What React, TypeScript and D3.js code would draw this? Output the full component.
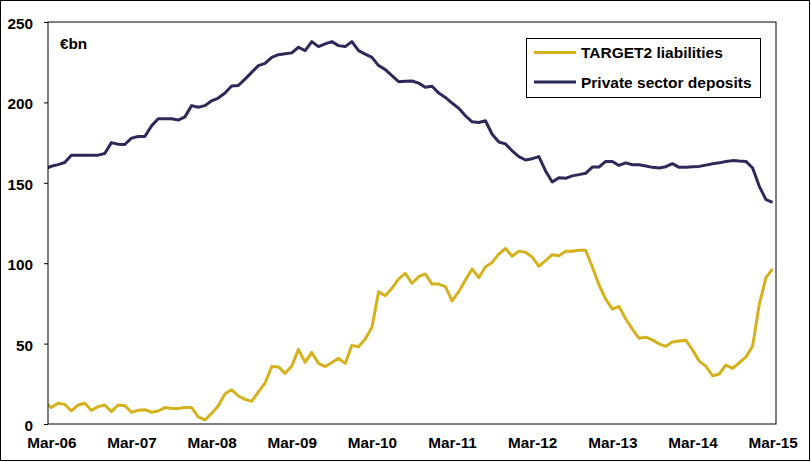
import * as d3 from 'd3'
import { useEffect, useRef } from 'react'

const W = 811
const H = 462
const margin = { top: 22, right: 35, bottom: 38, left: 48 }
const font = '"Liberation Sans", Arial, sans-serif'

// monthly, Feb-06 (clipped at the axis) .. Mar-15
const target2 = [
  13.5,
  10.2, 12.9, 12.2, 8.1, 11.8, 12.9, 8.5, 10.8, 11.8, 7.7, 11.8, 11.4,
  7.3, 8.5, 8.9, 7.3, 8.1, 10.2, 9.7, 9.7, 10.2, 10.2, 4.4, 2.5,
  6.6, 11.4, 18.8, 21.3, 17.4, 15.3, 14.1, 20, 25.5, 35.7, 35.5, 31.5,
  36, 46.4, 38.3, 44.5, 37.7, 35.7, 38.3, 40.8, 37.7, 48.9, 48.1, 52.9,
  60.1, 82.3, 79.7, 84.4, 90.3, 93.7, 87.5, 91.6, 93.3, 87, 87, 85.4,
  76.5, 82.3, 89.6, 96.4, 91, 97.8, 100.5, 105.7, 109.2, 104.3, 107.5, 106.8,
  103.8, 98.1, 101.6, 105.3, 104.7, 107.4, 107.4, 108, 108, 97.7, 86.5, 77.7,
  71.4, 73.1, 65.3, 59, 53.3, 54, 52.3, 49.8, 48.3, 51, 51.6, 52.1,
  46.1, 39.1, 36, 30, 31.1, 36.7, 34.6, 38.1, 41.7, 48.5, 74.5, 91,
  96.5,
]

const deposits = [
  158.7,
  160.3, 161.3, 162.6, 167.2, 167.2, 167.2, 167.2, 167.2, 168.2, 175, 174, 173.8,
  177.8, 178.8, 178.8, 185.4, 189.8, 189.8, 189.8, 189, 191, 198, 197, 198,
  201, 202.7, 205.8, 210.2, 210.5, 214.5, 218.7, 222.9, 224.3, 228, 229.7, 230.3,
  230.8, 234.3, 232.2, 237.8, 234.7, 236.4, 237.8, 235.3, 234.7, 237.8, 232.2, 230,
  228, 222.9, 220.4, 216.6, 212.9, 213.1, 213.3, 212, 209.4, 210, 205.8, 203.1,
  199.6, 196.3, 191.7, 187.9, 187.5, 188.6, 180.2, 175.4, 174.2, 169.9, 166.3, 164.2,
  165, 166.3, 157.4, 150.5, 153.2, 152.8, 154.3, 155.1, 155.9, 159.8, 159.8, 163.3,
  163.3, 160.8, 162.4, 161.2, 161.2, 160.5, 159.6, 159.2, 160, 161.9, 159.6, 159.6,
  160, 160.2, 161, 161.9, 162.4, 163.2, 163.8, 163.5, 163.3, 159.2, 147.8, 139.5,
  137.8,
]

const tickLabels = ['Mar-06', 'Mar-07', 'Mar-08', 'Mar-09', 'Mar-10', 'Mar-11', 'Mar-12', 'Mar-13', 'Mar-14', 'Mar-15']
const yTicks = [0, 50, 100, 150, 200, 250]

const series = [
  { name: 'TARGET2 liabilities', values: target2, color: '#D6B11E' },
  { name: 'Private sector deposits', values: deposits, color: '#2D2A5B' },
]

export default function App() {
  const ref = useRef<SVGSVGElement>(null)

  useEffect(() => {
    const svg = d3.select(ref.current)
    svg.selectAll('*').remove()

    const iw = W - margin.left - margin.right
    const ih = H - margin.top - margin.bottom

    // index 0 = Mar-06; half a month of padding on each side
    const x = d3.scaleLinear().domain([-0.5, 108.5]).range([0, iw])
    const y = d3.scaleLinear().domain([0, 250]).range([ih, 0])

    svg
      .append('rect')
      .attr('x', 0.5)
      .attr('y', 0.5)
      .attr('width', W - 2)
      .attr('height', H - 2)
      .attr('fill', 'white')
      .attr('stroke', 'black')

    const g = svg.append('g').attr('transform', `translate(${margin.left}, ${margin.top})`)

    g.append('clipPath')
      .attr('id', 'plot-clip')
      .append('rect')
      .attr('width', iw)
      .attr('height', ih)

    const yAxis = d3.axisLeft(y).tickValues(yTicks).tickSize(4).tickPadding(11)
    g.append('g')
      .call(yAxis)
      .call((a) => a.select('.domain').remove())
      .call((a) => a.selectAll('text').attr('dy', '0.42em'))

    const xAxis = d3
      .axisBottom(x)
      .tickValues(tickLabels.map((_, i) => i * 12))
      .tickFormat((_, i) => tickLabels[i])
      .tickSize(0)
      .tickPadding(13)
    g.append('g')
      .attr('transform', `translate(0, ${ih})`)
      .call(xAxis)
      .call((a) => a.select('.domain').remove())

    g.selectAll('.tick text')
      .attr('font-family', font)
      .attr('font-size', 15.3)
      .attr('font-weight', 'bold')
      .attr('fill', 'black')

    const line = d3
      .line<number>()
      .x((_, i) => x(i - 1))
      .y((d) => y(d))

    const lines = g.append('g').attr('clip-path', 'url(#plot-clip)')
    series.forEach((s) => {
      lines
        .append('path')
        .datum(s.values)
        .attr('d', line)
        .attr('fill', 'none')
        .attr('stroke', s.color)
        .attr('stroke-width', 3)
        .attr('stroke-linejoin', 'round')
    })

    g.append('rect')
      .attr('x', 0)
      .attr('y', 0)
      .attr('width', iw)
      .attr('height', ih)
      .attr('fill', 'none')
      .attr('stroke', 'black')

    g.append('text')
      .attr('x', 12)
      .attr('y', 26.5)
      .attr('font-family', font)
      .attr('font-size', 15.3)
      .attr('font-weight', 'bold')
      .text('€bn')

    // legend
    const lg = svg.append('g').attr('transform', 'translate(526, 38)')
    lg.append('rect')
      .attr('x', 0.5)
      .attr('y', 0.5)
      .attr('width', 234)
      .attr('height', 59)
      .attr('fill', 'white')
      .attr('stroke', 'black')
    series.forEach((s, i) => {
      const ly = 14.5 + i * 29.5
      lg.append('line')
        .attr('x1', 8)
        .attr('x2', 50)
        .attr('y1', ly)
        .attr('y2', ly)
        .attr('stroke', s.color)
        .attr('stroke-width', 3)
      lg.append('text')
        .attr('x', 55)
        .attr('y', ly)
        .attr('dy', '0.36em')
        .attr('font-family', font)
        .attr('font-size', 15.5)
        .attr('font-weight', 'bold')
        .text(s.name)
    })
  }, [])

  return (
    <>
      <style>{`body { margin: 0; }`}</style>
      <svg ref={ref} width={W} height={H} style={{ display: 'block' }} />
    </>
  )
}
